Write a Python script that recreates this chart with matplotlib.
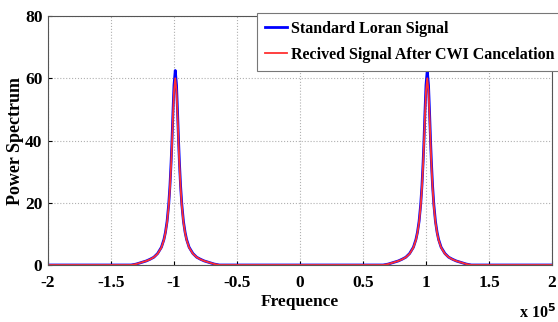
import matplotlib
matplotlib.use("Agg")
import matplotlib.pyplot as plt
import numpy as np

# ---- data (frequency in units of 1e5) ----
peak_centers = [-0.99, 1.01]
span = [-2.0, 2.0]
# offsets from a peak centre (x 1e5) and the spectrum values at those offsets
offsets = [-0.35, -0.31, -0.27, -0.23, -0.20, -0.17, -0.14, -0.11, -0.09, -0.078, -0.065,
           -0.052, -0.042, -0.033, -0.026, -0.018, -0.010, 0.0,
           0.010, 0.018, 0.026, 0.033, 0.042, 0.052, 0.065, 0.078, 0.09,
           0.11, 0.14, 0.17, 0.20, 0.23, 0.27, 0.31, 0.35]
standard_vals = [0.0, 0.3, 0.8, 1.3, 1.85, 2.5, 3.7, 5.7, 8.2, 10.5, 14.0,
                 19.5, 25.6, 33.0, 40.0, 49.4, 57.8, 62.5,
                 57.8, 49.4, 40.0, 33.0, 25.6, 19.5, 14.0, 10.5, 8.2,
                 5.7, 3.7, 2.5, 1.85, 1.3, 0.8, 0.3, 0.0]
received_vals = [0.0, 0.3, 0.8, 1.3, 1.8, 2.5, 3.6, 5.6, 8.0, 10.3, 13.7,
                 19.0, 25.0, 32.2, 39.0, 48.0, 55.8, 60.0,
                 55.8, 48.0, 39.0, 32.2, 25.0, 19.0, 13.7, 10.3, 8.0,
                 5.6, 3.6, 2.5, 1.8, 1.3, 0.8, 0.3, 0.0]
xticks = [-2, -1.5, -1, -0.5, 0, 0.5, 1, 1.5, 2]
xtick_labels = ["-2", "-1.5", "-1", "-0.5", "0", "0.5", "1", "1.5", "2"]
yticks = [0, 20, 40, 60, 80]


def build(vals):
    xs = [span[0]]
    ys = [0.0]
    for c in peak_centers:
        xs += [c + o for o in offsets]
        ys += list(vals)
    xs.append(span[1])
    ys.append(0.0)
    return np.array(xs) * 1e5, np.array(ys)


plt.rcParams['font.family'] = ['Liberation Serif', 'DejaVu Serif']
plt.rcParams['font.weight'] = 'bold'

fig = plt.figure(figsize=(5.58, 3.22), dpi=100)
ax = fig.add_axes([48 / 558, 1 - 265 / 322, 504 / 558, 249 / 322])

xs, ys = build(standard_vals)
ax.plot(xs, ys, color='#0000ff', lw=2.0, label='Standard Loran Signal')
xs, ys = build(received_vals)
ax.plot(xs, ys, color='#ff3030', lw=1.3, label='Recived Signal After CWI Cancelation')

ax.set_xlim(-2e5, 2e5)
ax.set_ylim(0, 80)
ax.set_xticks([t * 1e5 for t in xticks])
ax.set_xticklabels(xtick_labels)
ax.set_yticks(yticks)
ax.tick_params(direction='in', length=3, labelsize=12.5, pad=4, colors='black')
ax.tick_params(axis='x', pad=7)
for lab in ax.get_xticklabels() + ax.get_yticklabels():
    lab.set_fontweight('bold')
ax.grid(True, linestyle=':', color='#b0b0b0', lw=0.8)
for s in ax.spines.values():
    s.set_color('#555555')
    s.set_linewidth(0.8)

ax.set_xlabel('Frequence', fontsize=12.5, fontweight='bold', labelpad=2)
ax.set_ylabel('Power Spectrum', fontsize=13, fontweight='bold', labelpad=1)

fig.text(519 / 558, 1 - 313 / 322, 'x 10$^{5}$', fontsize=11.5, fontweight='bold',
         ha='left', va='center')

leg = fig.legend(loc='upper left', bbox_to_anchor=(257 / 558, 1 - 13 / 322),
                 bbox_transform=fig.transFigure, borderaxespad=0, frameon=True,
                 fancybox=False, framealpha=1, edgecolor='#777777',
                 prop={'family': 'Liberation Serif', 'weight': 'bold', 'size': 11.5},
                 handlelength=1.4, handletextpad=0.2, borderpad=0.5, labelspacing=0.6)
leg.get_frame().set_linewidth(0.8)

fig.savefig('out.png', dpi=100)
